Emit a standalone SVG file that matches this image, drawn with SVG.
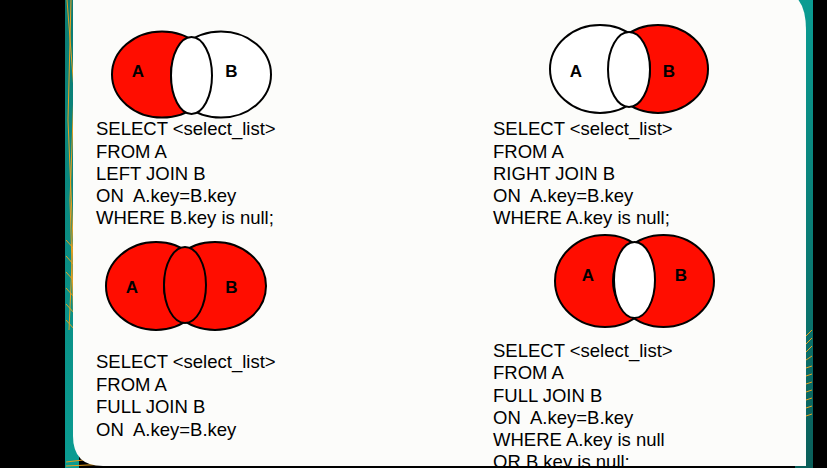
<svg xmlns="http://www.w3.org/2000/svg" width="827" height="468" viewBox="0 0 827 468">
<style>
.sql{font-family:"Liberation Sans",Arial,sans-serif;font-size:18.5px;fill:#000;white-space:pre}
.lbl{font-family:"Liberation Sans",Arial,sans-serif;font-size:17px;font-weight:bold;fill:#000;text-anchor:middle}
.ring{stroke:#000;stroke-width:2}
.red{fill:#ff0d00}
.wht{fill:#fff}
.deco{stroke:#e8a020;stroke-width:1;fill:none}
</style>
<defs>
<linearGradient id="tealR" x1="0" y1="0" x2="0" y2="1">
<stop offset="0" stop-color="#0a9c92"/>
<stop offset="1" stop-color="#0a5f5a"/>
</linearGradient>
<linearGradient id="tealL" x1="0" y1="0" x2="0" y2="1">
<stop offset="0" stop-color="#0b7b72"/>
<stop offset="1" stop-color="#0a9c92"/>
</linearGradient>
</defs>
<rect x="0" y="0" width="827" height="468" fill="#000"/>
<!-- left decorative strip -->
<rect x="65" y="0" width="14" height="468" fill="url(#tealL)"/>
<path class="deco" d="M67 0 L74 90 L70 200 L74 330 M71 0 L68 120 L73 240 L69 330 M66 240 L75 250 M66 256 L75 266 M66 272 L75 282 M66 288 L75 298 M66 304 L75 314 M66 320 L75 330 M66 462 L100 458 M66 466 L110 464"/>
<!-- right decorative strip -->
<rect x="795" y="0" width="18" height="468" fill="url(#tealR)"/>
<path class="deco" d="M806 336 L812 330 M806 344 L812 338 M806 352 L812 346 M806 360 L812 356 M806 368 L812 366 M806 376 L812 374 M806 384 L812 382 M806 392 L812 390 M806 400 L812 398 M806 408 L812 406 M806 416 L812 414"/>
<!-- white panel -->
<path d="M73 -10 L776 -10 Q806 -10 806 30 L806 466 L103 466 Q73 466 73 436 Z" fill="#fcfcfa"/>

<g id="venn-left-excl">
<ellipse class="red ring" cx="162" cy="74.5" rx="50" ry="43"/>
<ellipse class="wht ring" cx="221" cy="74.5" rx="50" ry="43"/>
<ellipse class="wht ring" cx="191.5" cy="75.5" rx="20.5" ry="38.5"/>
<text class="lbl" x="138" y="77">A</text>
<text class="lbl" x="231.5" y="77">B</text>
</g>
<g id="venn-right-excl">
<ellipse class="red ring" cx="658" cy="69" rx="50" ry="44"/>
<ellipse class="wht ring" cx="600" cy="69" rx="50" ry="44"/>
<ellipse class="wht ring" cx="629" cy="69.5" rx="21" ry="37.5"/>
<text class="lbl" x="576" y="77">A</text>
<text class="lbl" x="669" y="77">B</text>
</g>
<g id="venn-full">
<ellipse class="red ring" cx="156" cy="286" rx="50" ry="44"/>
<ellipse class="red ring" cx="215" cy="286" rx="51" ry="44"/>
<ellipse class="red ring" cx="185" cy="285" rx="21" ry="38"/>
<text class="lbl" x="132" y="293">A</text>
<text class="lbl" x="231.5" y="293">B</text>
</g>
<g id="venn-full-excl">
<ellipse class="red ring" cx="605" cy="281" rx="50" ry="46"/>
<ellipse class="red ring" cx="663.5" cy="281" rx="50.5" ry="46"/>
<ellipse class="wht ring" cx="634.5" cy="280" rx="20.5" ry="38"/>
<text class="lbl" x="588" y="281">A</text>
<text class="lbl" x="681" y="281">B</text>
</g>

<g id="sql-left">
<text class="sql" x="96" y="135">SELECT &lt;select_list&gt;</text>
<text class="sql" x="96" y="158">FROM A</text>
<text class="sql" x="96" y="180">LEFT JOIN B</text>
<text class="sql" x="96" y="202" xml:space="preserve">ON  A.key=B.key</text>
<text class="sql" x="96" y="224">WHERE B.key is null;</text>
</g>
<g id="sql-right">
<text class="sql" x="493" y="135">SELECT &lt;select_list&gt;</text>
<text class="sql" x="493" y="158">FROM A</text>
<text class="sql" x="493" y="180">RIGHT JOIN B</text>
<text class="sql" x="493" y="202" xml:space="preserve">ON  A.key=B.key</text>
<text class="sql" x="493" y="224">WHERE A.key is null;</text>
</g>
<g id="sql-full">
<text class="sql" x="96" y="368">SELECT &lt;select_list&gt;</text>
<text class="sql" x="96" y="391">FROM A</text>
<text class="sql" x="96" y="413">FULL JOIN B</text>
<text class="sql" x="96" y="436" xml:space="preserve">ON  A.key=B.key</text>
</g>
<g id="sql-full-excl">
<text class="sql" x="493" y="357">SELECT &lt;select_list&gt;</text>
<text class="sql" x="493" y="379">FROM A</text>
<text class="sql" x="493" y="402">FULL JOIN B</text>
<text class="sql" x="493" y="424" xml:space="preserve">ON  A.key=B.key</text>
<text class="sql" x="493" y="446">WHERE A.key is null</text>
<text class="sql" x="493" y="468">OR B.key is null;</text>
</g>
</svg>
